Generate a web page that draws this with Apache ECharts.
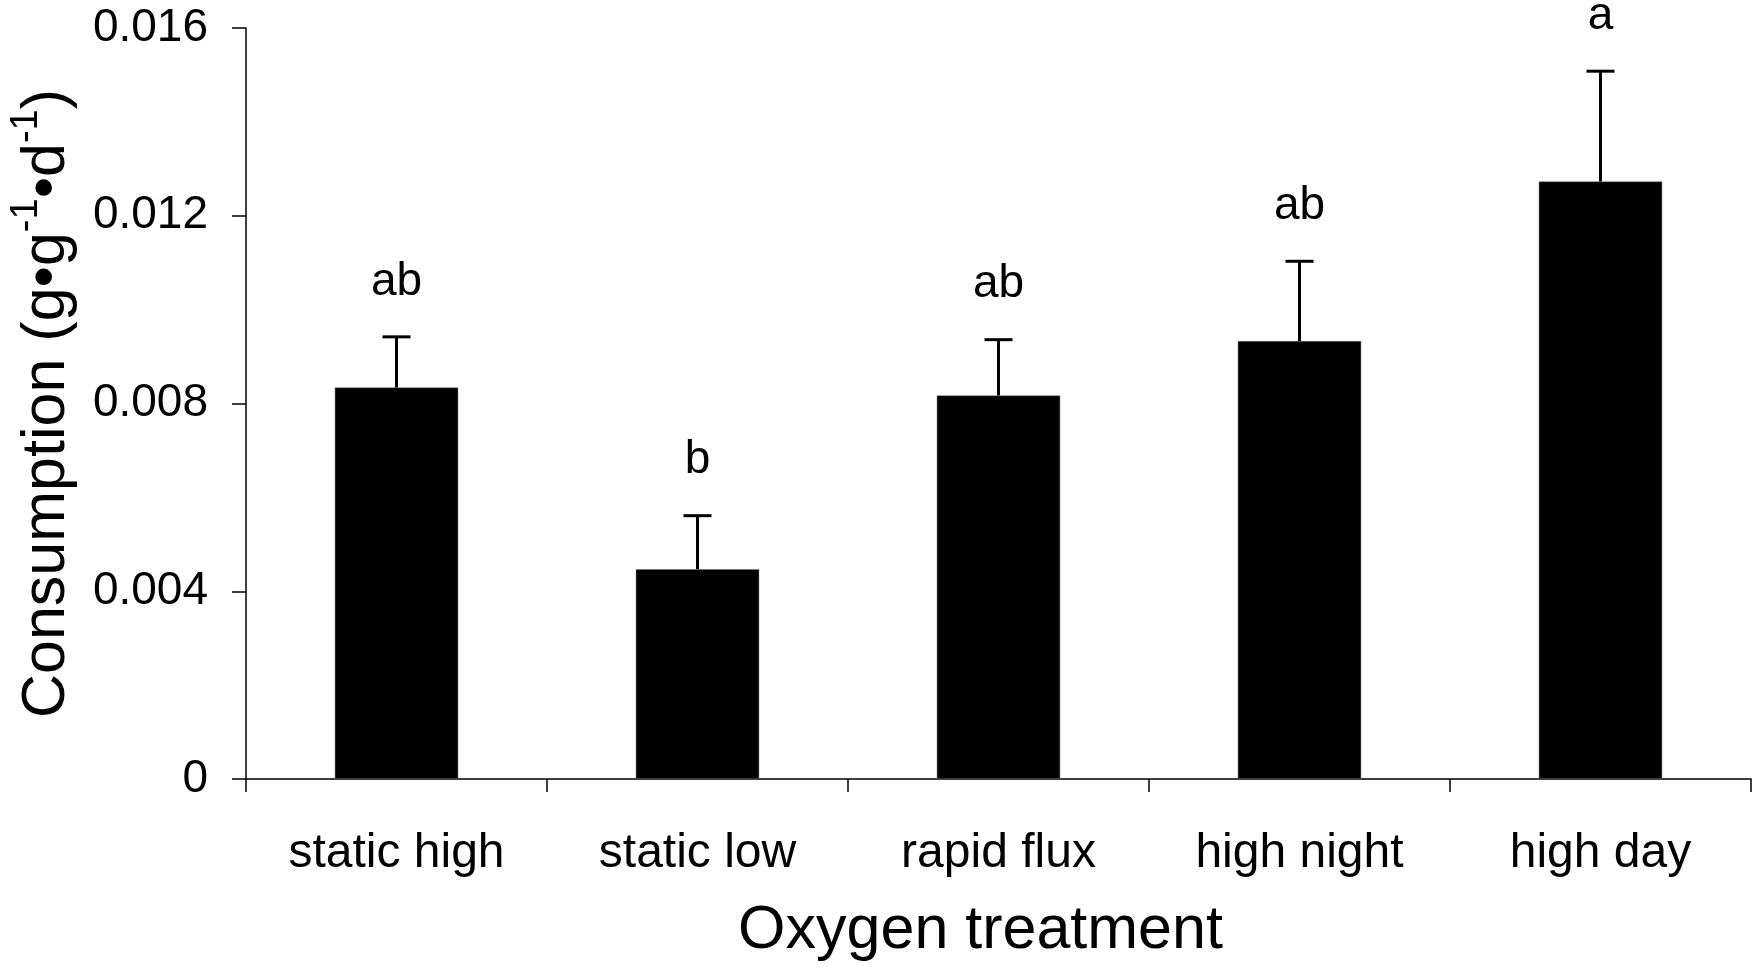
<!DOCTYPE html>
<html>
<head>
<meta charset="utf-8">
<title>Consumption by oxygen treatment</title>
<script src="https://cdn.jsdelivr.net/npm/echarts@6/dist/echarts.min.js"></script>
<style>
  html, body { margin: 0; padding: 0; background: #ffffff; }
  #chart { width: 1756px; height: 967px; }
</style>
</head>
<body>
<div id="chart"></div>
<script>
// Treatments and measured consumption (mean and mean + error)
const categories = ['static high', 'static low', 'rapid flux', 'high night', 'high day'];
const meanValues = [0.00834, 0.00447, 0.00817, 0.00933, 0.01273];
const errorTops  = [0.00942, 0.00561, 0.00936, 0.01103, 0.01508];
// Significance groupings shown above each bar
const groupLetters = ['ab', 'b', 'ab', 'ab', 'a'];
// Value axis tick labels
const yTickLabels = ['0', '0.004', '0.008', '0.012', '0.016'];

const FONT = "'Liberation Sans', Arial, Helvetica, sans-serif";

const chart = echarts.init(document.getElementById('chart'), null, { renderer: 'canvas' });

const errorData = categories.map((c, i) => [i, meanValues[i], errorTops[i], groupLetters[i]]);

chart.setOption({
  animation: false,
  backgroundColor: '#ffffff',
  grid: { left: 244, right: 5, top: 28, bottom: 188, containLabel: false },
  xAxis: {
    type: 'category',
    data: categories,
    name: 'Oxygen treatment',
    nameLocation: 'middle',
    nameGap: 122,
    nameTextStyle: { fontFamily: FONT, fontSize: 61, color: '#000', padding: [0, 36, 0, 0] },
    axisLine: { lineStyle: { color: '#000', width: 1.5 } },
    axisTick: { show: true, length: 13, lineStyle: { color: '#000', width: 1.5 } },
    axisLabel: { margin: 51, fontFamily: FONT, fontSize: 48, color: '#000' },
    splitLine: { show: false }
  },
  yAxis: {
    type: 'value',
    min: 0,
    max: 0.016,
    interval: 0.004,
    name: '{n|Consumption (g•g}{s|-1}{n|•d}{s|-1}{n|)}',
    nameLocation: 'middle',
    nameGap: 168,
    nameTextStyle: {
      fontFamily: FONT, color: '#000',
      rich: {
        n: { fontFamily: FONT, fontSize: 61, color: '#000', verticalAlign: 'bottom', lineHeight: 70 },
        s: { fontFamily: FONT, fontSize: 38, color: '#000', verticalAlign: 'top', lineHeight: 70, padding: [0, 0, 24, 0] }
      }
    },
    axisLine: { show: true, lineStyle: { color: '#000', width: 1.5 } },
    axisTick: { show: true, length: 14, lineStyle: { color: '#000', width: 1.5 } },
    axisLabel: {
      margin: 38, fontFamily: FONT, fontSize: 46, color: '#000',
      formatter: (v) => yTickLabels[Math.round(v / 0.004)]
    },
    splitLine: { show: false }
  },
  series: [
    {
      type: 'bar',
      data: meanValues,
      barWidth: '41%',
      itemStyle: { color: '#000', borderColor: '#777', borderWidth: 0.5 },
      z: 2
    },
    {
      type: 'custom',
      data: errorData,
      z: 3,
      renderItem: (params, api) => {
        const idx = api.value(0);
        const base = api.coord([idx, api.value(1)]);
        const top = api.coord([idx, api.value(2)]);
        const halfCap = 14;
        const letter = groupLetters[params.dataIndex];
        return {
          type: 'group',
          children: [
            {
              type: 'line',
              shape: { x1: base[0], y1: base[1], x2: top[0], y2: top[1] },
              style: { stroke: '#000', lineWidth: 3 }
            },
            {
              type: 'line',
              shape: { x1: top[0] - halfCap, y1: top[1], x2: top[0] + halfCap, y2: top[1] },
              style: { stroke: '#000', lineWidth: 3 }
            },
            {
              type: 'text',
              x: top[0],
              y: top[1] - 32,
              style: {
                text: letter,
                fontFamily: FONT,
                fontSize: 46,
                fill: '#000',
                align: 'center',
                verticalAlign: 'bottom'
              }
            }
          ]
        };
      }
    }
  ]
});
</script>
</body>
</html>
